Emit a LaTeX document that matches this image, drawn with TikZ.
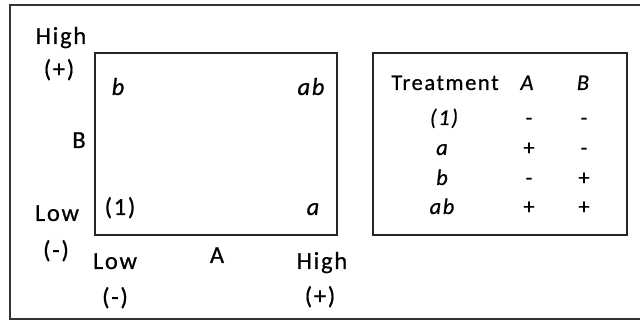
\documentclass[tikz,border=0pt]{standalone}
\usepackage{fontspec}
\setmainfont{Carlito}[LetterSpace=7,FakeBold=0.6]
\begin{document}
\begin{tikzpicture}[x=1pt,y=-1pt,
  frame/.style={draw=black!80,line width=1.3pt},
  box/.style={draw=black!85,line width=1.1pt},
  lbl/.style={inner sep=0pt,anchor=base,font=\fontsize{24.5}{28}\selectfont},
  lbli/.style={lbl,font=\fontsize{24.5}{28}\selectfont\itshape},
  cell/.style={inner sep=0pt,anchor=base,font=\fontsize{22.5}{26}\selectfont},
  celli/.style={cell,font=\fontsize{22.5}{26}\selectfont\itshape}]
\useasboundingbox (0,0) rectangle (640,320);
% outer frame (right side runs past the page edge)
\draw[frame] (645,5) -- (10,5) -- (10,319) -- (645,319);
% design square and treatment table
\node[box,minimum width=242pt,minimum height=182pt,inner sep=0pt] (sq) at (216,144) {};
\node[box,minimum width=254pt,minimum height=182pt,inner sep=0pt] (tb) at (500,144) {};
% factor B axis
\node[lbl] (bhi) at (61,44) {High};
\node[lbl] (bhip) at (59,77) {(+)};
\node[lbl] (bname) at (79,148) {B};
\node[lbl] (blo) at (57,221) {Low};
\node[lbl] (blom) at (56,258) {(-)};
% factor A axis
\node[lbl] (alo) at (115,269) {Low};
\node[lbl] (alom) at (115,305) {(-)};
\node[lbl] (aname) at (217,263) {A};
\node[lbl] (ahi) at (322,269) {High};
\node[lbl] (ahip) at (320,304) {(+)};
% corner treatments
\node[lbli] (cb) at (118,95) {b};
\node[lbli] (cab) at (311,95) {ab};
\node[lbl] (c1) at (120,215) {(1)};
\node[lbli] (ca) at (313,215) {a};
% table contents
\node[cell] (th) at (445,90) {Treatment};
\node[celli] (tA) at (527,90) {A};
\node[celli] (tB) at (583,90) {B};
\node[celli] (r1) at (444,125) {(1)};
\node[cell] (r1a) at (529,125) {-};
\node[cell] (r1b) at (584,125) {-};
\node[celli] (r2) at (442,155) {a};
\node[cell] (r2a) at (529,155) {+};
\node[cell] (r2b) at (584,155) {-};
\node[celli] (r3) at (442,185) {b};
\node[cell] (r3a) at (529,185) {-};
\node[cell] (r3b) at (584,185) {+};
\node[celli] (r4) at (442,214) {ab};
\node[cell] (r4a) at (529,214) {+};
\node[cell] (r4b) at (584,214) {+};
\end{tikzpicture}
\end{document}
